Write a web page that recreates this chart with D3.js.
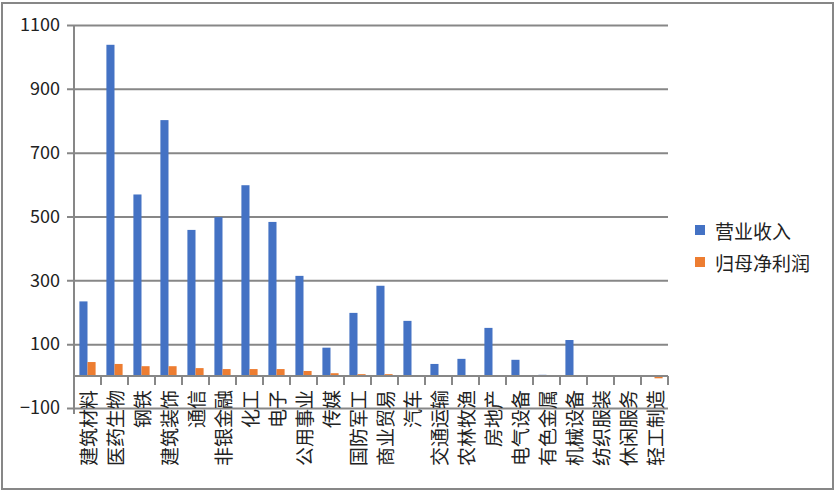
<!DOCTYPE html>
<html><head><meta charset="utf-8">
<script src="https://cdn.jsdelivr.net/npm/d3@7"></script>
<style>body{margin:0;background:#fff}svg{display:block}</style>
</head><body>
<svg id="c" width="837" height="495"></svg>
<script>
const categories = ["建筑材料","医药生物","钢铁","建筑装饰","通信","非银金融","化工","电子","公用事业","传媒","国防军工","商业贸易","汽车","交通运输","农林牧渔","房地产","电气设备","有色金属","机械设备","纺织服装","休闲服务","轻工制造"];
const revenue = [234, 1038, 569, 802, 458, 498, 598, 483, 314, 89, 198, 283, 173, 38, 54, 151, 51, 4, 113, 0, 0, 0];
const profit = [44, 38, 31, 31, 25, 22, 22, 22, 16, 9, 6, 6, 3, 3, 3, 3, 3, 1, 0, 0, 0, -7];
const seriesNames = ["营业收入","归母净利润"];
const yTicks = [-100, 100, 300, 500, 700, 900, 1100];
const colors = ["#4472C4", "#ED7D31"];

const svg = d3.select("#c");
const font = "'Noto Sans CJK SC', 'Liberation Sans', sans-serif";
const grey = "#878787";

svg.append("rect").attr("x",2).attr("y",3).attr("width",831).attr("height",486)
  .attr("fill","#fff").attr("stroke",grey).attr("stroke-width",2);

const x = d3.scaleBand().domain(categories).range([74, 668]);
const y = d3.scaleLinear().domain([-100, 1100]).range([408, 25]);

// gridlines + y ticks
const yAxis = d3.axisLeft(y).tickValues(yTicks).tickFormat(d3.format("d")).tickSize(7).tickSizeOuter(0).tickPadding(7);
const ga = svg.append("g").attr("transform","translate(74,0)").call(yAxis);
ga.select(".domain").remove();
ga.selectAll(".tick line").attr("stroke",grey).attr("stroke-width",2).attr("x2",668-74).attr("x1",-7);
ga.selectAll(".tick text").attr("font-family",font).attr("font-size",18).attr("fill","#222");

// y axis line
svg.append("line").attr("x1",74).attr("x2",74).attr("y1",y(1100)).attr("y2",414)
  .attr("stroke",grey).attr("stroke-width",2);

// bars
const bw = x.bandwidth()*0.3;
const off = x.bandwidth()*0.2;
[revenue, profit].forEach((vals,si)=>{
  svg.append("g").selectAll("rect").data(categories).join("rect")
    .attr("x", (d)=> x(d)+off+si*bw)
    .attr("width", bw)
    .attr("y", (d,i)=> y(Math.max(0, vals[i])))
    .attr("height", (d,i)=> Math.abs(y(vals[i]) - y(0)))
    .attr("fill", colors[si]);
});

// category axis at zero
const xAxis = d3.axisBottom(x).tickSize(0).tickFormat("");
const gx = svg.append("g").attr("transform",`translate(0,${y(0)})`).call(xAxis);
gx.select(".domain").attr("stroke",grey).attr("stroke-width",2).attr("d",`M74,0H668`);
gx.selectAll(".tick").remove();
const bounds = categories.map(c=>x(c)).concat([x.range()[1]]);
svg.append("g").selectAll("line").data(bounds).join("line")
  .attr("x1",d=>d).attr("x2",d=>d).attr("y1",y(0)).attr("y2",y(0)+9)
  .attr("stroke",grey).attr("stroke-width",2);

// category labels
svg.append("g").selectAll("text").data(categories).join("text")
  .attr("transform", d=>`translate(${x(d)+x.bandwidth()/2},390) rotate(-90)`)
  .attr("text-anchor","end").attr("dominant-baseline","central")
  .attr("font-family",font).attr("font-size",19).attr("fill","#222")
  .text(d=>d);

// legend
const lg = svg.append("g");
seriesNames.forEach((n,i)=>{
  const cy = 230 + i*32;
  lg.append("rect").attr("x",695).attr("y",cy-5).attr("width",10).attr("height",10).attr("fill",colors[i]);
  lg.append("text").attr("x",715).attr("y",cy).attr("dominant-baseline","central")
    .attr("font-family",font).attr("font-size",19).attr("fill","#222").text(n);
});
</script>
</body></html>
